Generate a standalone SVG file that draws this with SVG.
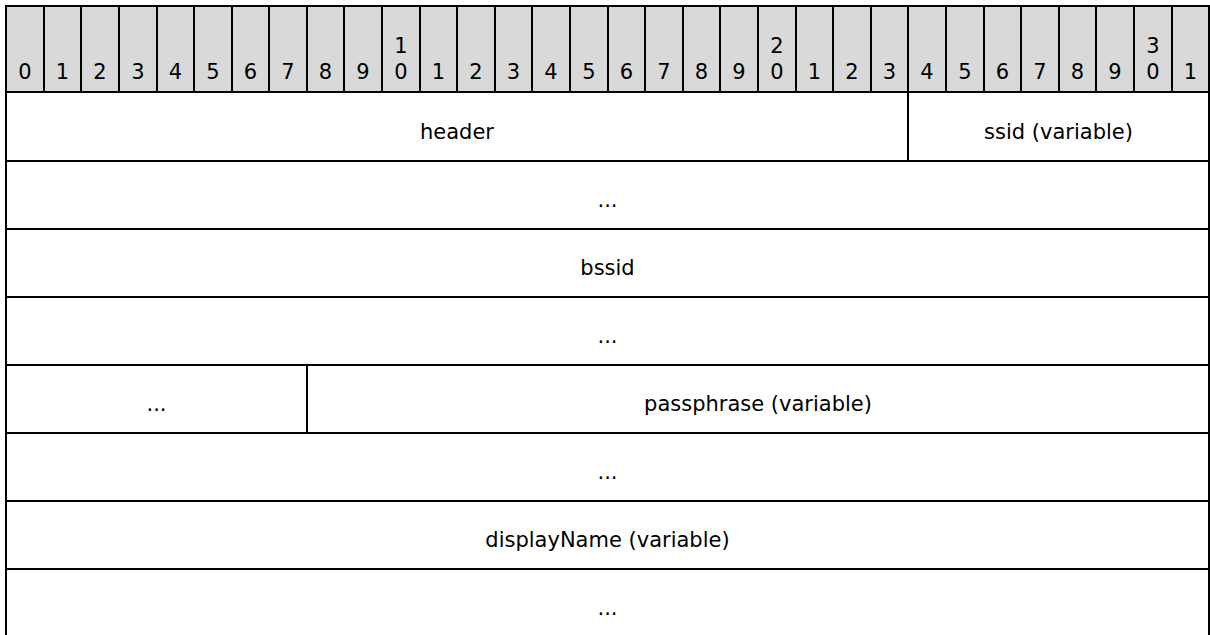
<svg xmlns="http://www.w3.org/2000/svg" width="1210" height="635" viewBox="0 0 1210 635">
<style>
.bit{fill:#d9d9d9;stroke:#000;stroke-width:2}
.fld{fill:#fff;stroke:#000;stroke-width:2}
text{font-family:"DejaVu Sans","Liberation Sans",sans-serif;font-size:21px;fill:#000;text-anchor:middle}
</style>
<rect x="0" y="0" width="1210" height="635" fill="#fff"/>
<g id="bits">
<g id="b0"><rect class="bit" x="6" y="6" width="38" height="86"/><text x="25" y="79.3">0</text></g>
<g id="b1"><rect class="bit" x="44" y="6" width="37" height="86"/><text x="62.5" y="79.3">1</text></g>
<g id="b2"><rect class="bit" x="81" y="6" width="38" height="86"/><text x="100" y="79.3">2</text></g>
<g id="b3"><rect class="bit" x="119" y="6" width="38" height="86"/><text x="138" y="79.3">3</text></g>
<g id="b4"><rect class="bit" x="157" y="6" width="37" height="86"/><text x="175.5" y="79.3">4</text></g>
<g id="b5"><rect class="bit" x="194" y="6" width="38" height="86"/><text x="213" y="79.3">5</text></g>
<g id="b6"><rect class="bit" x="232" y="6" width="37" height="86"/><text x="250.5" y="79.3">6</text></g>
<g id="b7"><rect class="bit" x="269" y="6" width="38" height="86"/><text x="288" y="79.3">7</text></g>
<g id="b8"><rect class="bit" x="307" y="6" width="37" height="86"/><text x="325.5" y="79.3">8</text></g>
<g id="b9"><rect class="bit" x="344" y="6" width="38" height="86"/><text x="363" y="79.3">9</text></g>
<g id="b10"><rect class="bit" x="382" y="6" width="38" height="86"/><text x="401" y="53.3">1</text><text x="401" y="79.3">0</text></g>
<g id="b11"><rect class="bit" x="420" y="6" width="37" height="86"/><text x="438.5" y="79.3">1</text></g>
<g id="b12"><rect class="bit" x="457" y="6" width="38" height="86"/><text x="476" y="79.3">2</text></g>
<g id="b13"><rect class="bit" x="495" y="6" width="37" height="86"/><text x="513.5" y="79.3">3</text></g>
<g id="b14"><rect class="bit" x="532" y="6" width="38" height="86"/><text x="551" y="79.3">4</text></g>
<g id="b15"><rect class="bit" x="570" y="6" width="38" height="86"/><text x="589" y="79.3">5</text></g>
<g id="b16"><rect class="bit" x="608" y="6" width="37" height="86"/><text x="626.5" y="79.3">6</text></g>
<g id="b17"><rect class="bit" x="645" y="6" width="38" height="86"/><text x="664" y="79.3">7</text></g>
<g id="b18"><rect class="bit" x="683" y="6" width="37" height="86"/><text x="701.5" y="79.3">8</text></g>
<g id="b19"><rect class="bit" x="720" y="6" width="38" height="86"/><text x="739" y="79.3">9</text></g>
<g id="b20"><rect class="bit" x="758" y="6" width="38" height="86"/><text x="777" y="53.3">2</text><text x="777" y="79.3">0</text></g>
<g id="b21"><rect class="bit" x="796" y="6" width="37" height="86"/><text x="814.5" y="79.3">1</text></g>
<g id="b22"><rect class="bit" x="833" y="6" width="38" height="86"/><text x="852" y="79.3">2</text></g>
<g id="b23"><rect class="bit" x="871" y="6" width="37" height="86"/><text x="889.5" y="79.3">3</text></g>
<g id="b24"><rect class="bit" x="908" y="6" width="38" height="86"/><text x="927" y="79.3">4</text></g>
<g id="b25"><rect class="bit" x="946" y="6" width="38" height="86"/><text x="965" y="79.3">5</text></g>
<g id="b26"><rect class="bit" x="984" y="6" width="37" height="86"/><text x="1002.5" y="79.3">6</text></g>
<g id="b27"><rect class="bit" x="1021" y="6" width="38" height="86"/><text x="1040" y="79.3">7</text></g>
<g id="b28"><rect class="bit" x="1059" y="6" width="37" height="86"/><text x="1077.5" y="79.3">8</text></g>
<g id="b29"><rect class="bit" x="1096" y="6" width="38" height="86"/><text x="1115" y="79.3">9</text></g>
<g id="b30"><rect class="bit" x="1134" y="6" width="38" height="86"/><text x="1153" y="53.3">3</text><text x="1153" y="79.3">0</text></g>
<g id="b31"><rect class="bit" x="1172" y="6" width="37" height="86"/><text x="1190.5" y="79.3">1</text></g>
</g>
<g id="fields">
<g id="f-header"><rect class="fld" x="6" y="92" width="902" height="69"/><text x="457" y="139">header</text></g>
<g id="f-ssid"><rect class="fld" x="908" y="92" width="301" height="69"/><text x="1058.5" y="139">ssid (variable)</text></g>
<g id="f-cont1"><rect class="fld" x="6" y="161" width="1203" height="68"/><text x="607.5" y="207">...</text></g>
<g id="f-bssid"><rect class="fld" x="6" y="229" width="1203" height="68"/><text x="607.5" y="275">bssid</text></g>
<g id="f-cont2"><rect class="fld" x="6" y="297" width="1203" height="68"/><text x="607.5" y="343">...</text></g>
<g id="f-cont3"><rect class="fld" x="6" y="365" width="301" height="68"/><text x="156.5" y="411">...</text></g>
<g id="f-passphrase"><rect class="fld" x="307" y="365" width="902" height="68"/><text x="758" y="411">passphrase (variable)</text></g>
<g id="f-cont4"><rect class="fld" x="6" y="433" width="1203" height="68"/><text x="607.5" y="479">...</text></g>
<g id="f-displayName"><rect class="fld" x="6" y="501" width="1203" height="68"/><text x="607.5" y="547">displayName (variable)</text></g>
<g id="f-cont5"><rect class="fld" x="6" y="569" width="1203" height="68"/><text x="607.5" y="615">...</text></g>
</g>
<g id="connectors"></g>
</svg>
